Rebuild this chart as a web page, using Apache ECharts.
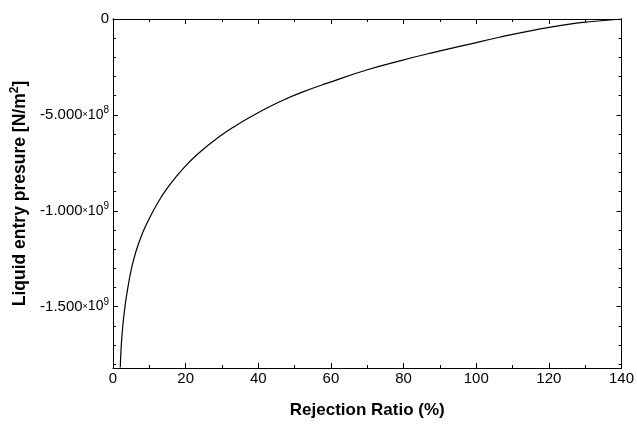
<!DOCTYPE html>
<html>
<head>
<meta charset="utf-8">
<script src="https://cdn.jsdelivr.net/npm/echarts@6/dist/echarts.min.js"></script>
<style>html,body{margin:0;padding:0;background:#fff}#c{width:637px;height:428px}</style>
</head>
<body>
<div id="c"></div>
<script>
var xValues = [2.0, 2.3, 2.75, 3.4, 4.1, 5.0, 6.4, 8.25, 10.2, 12.5, 14.8, 19.3, 23.9, 29.4, 34.0, 38.6, 43.2, 47.8, 52.3, 58.8, 69.8, 79, 88.1, 97.3, 106.4, 115.6, 124.8, 132, 140];
var yValues = [-1.817e9, -1.695e9, -1.59e9, -1.486e9, -1.40e9, -1.31e9, -1.207e9, -1.111e9, -1.033e9, -9.53e8, -8.86e8, -7.8e8, -6.95e8, -6.12e8, -5.54e8, -5.03e8, -4.56e8, -4.15e8, -3.8e8, -3.36e8, -2.66e8, -2.18e8, -1.75e8, -1.35e8, -9.5e7, -5.9e7, -2.9e7, -1.3e7, 0];
var yMajorTicks = [0, -5e8, -1e9, -1.5e9];
var yMinorTicks = [0, -1e8, -2e8, -3e8, -4e8, -5e8, -6e8, -7e8, -8e8, -9e8, -1e9, -1.1e9, -1.2e9, -1.3e9, -1.4e9, -1.5e9, -1.6e9, -1.7e9, -1.8e9];
var xTickLabels = [0, 20, 40, 60, 80, 100, 120, 140];

var FONT = 'Liberation Sans, Arial, sans-serif';
var data = xValues.map(function (x, i) { return [x, yValues[i]]; });

function yLabel(v) {
  if (v === 0) return '{m|0}';
  var exp = Math.floor(Math.log10(Math.abs(v)));
  var m = v / Math.pow(10, exp);
  return '{m|' + m.toFixed(3) + '}{x|×}{b|10}{s|' + exp + '}';
}

var labelRich = {
  m: {fontSize: 15, fontFamily: FONT, color: '#000'},
  x: {fontSize: 9, fontFamily: FONT, color: '#000'},
  b: {fontSize: 14, fontFamily: FONT, color: '#000'},
  s: {fontSize: 10, fontFamily: FONT, color: '#000', verticalAlign: 'bottom', padding: [0, 0, 9, 0]}
};

function yAx(pos, major, showLabel) {
  return {
    type: 'value', position: pos, min: -1.82e9, max: 0,
    axisLine: {show: true, onZero: false, lineStyle: {color: '#000', width: 1}},
    axisTick: {show: true, inside: true, length: major ? 5 : 3, customValues: major ? yMajorTicks : yMinorTicks, lineStyle: {color: '#000'}},
    axisLabel: {show: showLabel, customValues: yMajorTicks, formatter: yLabel, rich: labelRich, margin: 4, fontSize: 15, fontFamily: FONT, color: '#000'},
    splitLine: {show: false},
    name: showLabel ? 'Liquid entry presure [N/m{s|2}]' : '',
    nameLocation: 'middle', nameGap: 75,
    nameTextStyle: {fontSize: 17.5, fontWeight: 'bold', fontFamily: FONT, color: '#000',
      rich: {s: {fontSize: 12, fontWeight: 'bold', fontFamily: FONT, color: '#000', verticalAlign: 'bottom', padding: [0, 0, 10, 0]}}}
  };
}

function xAx(pos, showLabel) {
  return {
    type: 'value', position: pos, min: 0, max: 140, interval: 20,
    axisLine: {show: true, onZero: false, lineStyle: {color: '#000', width: 1}},
    axisTick: {show: true, inside: true, length: 5, lineStyle: {color: '#000'}},
    minorTick: {show: true, splitNumber: 2, length: 3, lineStyle: {color: '#000'}},
    axisLabel: {show: showLabel, margin: 3, fontSize: 15, fontFamily: FONT, color: '#000'},
    splitLine: {show: false}, minorSplitLine: {show: false},
    name: showLabel ? 'Rejection Ratio (%)' : '',
    nameLocation: 'middle', nameGap: 34,
    nameTextStyle: {fontSize: 17, fontWeight: 'bold', fontFamily: FONT, color: '#000'}
  };
}

var chart = echarts.init(document.getElementById('c'));
chart.setOption({
  backgroundColor: '#fff',
  animation: false,
  grid: {left: 113, right: 15, top: 19, bottom: 60},
  xAxis: [xAx('bottom', true), xAx('top', false)],
  yAxis: [yAx('left', true, true), yAx('left', false, false), yAx('right', true, false), yAx('right', false, false)],
  series: [{
    type: 'line', data: data, smooth: 0.5, showSymbol: false,
    xAxisIndex: 0, yAxisIndex: 0,
    lineStyle: {color: '#000', width: 1.2}
  }]
});
</script>
</body>
</html>
